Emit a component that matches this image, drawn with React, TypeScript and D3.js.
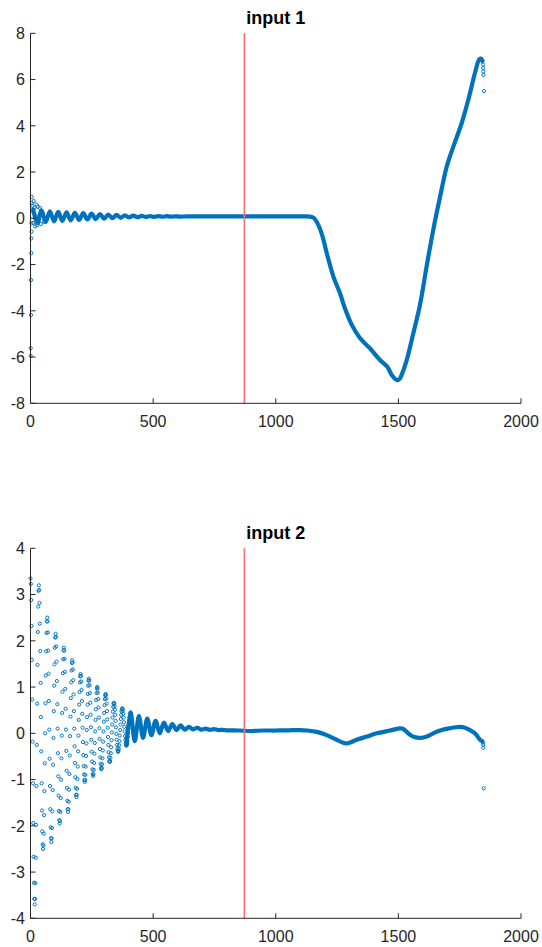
import React from 'react';
import * as d3 from 'd3';

const xTicks = [0, 500, 1000, 1500, 2000];
const input1Ticks = [-8, -6, -4, -2, 0, 2, 4, 6, 8];
const input2Ticks = [-4, -3, -2, -1, 0, 1, 2, 3, 4];
const cutoffIndex = 872;

// input 1 — first samples, scattered around the start
const input1Head: [number, number][] = [
  [1, -5.95], [1, -5.62], [2, -4.18], [2, -2.67], [3, -1.51], [3, -0.87], [4, -0.58],
  [4, -0.22], [5, 0.65], [5, 0.93], [7, 0.55], [9, 0.3], [11, -0.2], [13, 0.75],
  [16, 0.45], [19, -0.35], [21, 0.1], [24, 0.6], [27, -0.3], [30, 0.5], [33, -0.1],
  [38, 0.45], [42, -0.25], [48, 0.2], [55, -0.15],
];

// input 1 — damped ripple (peaks / troughs)
const input1Ripple: [number, number][] = [
  [11, 0.38], [28, -0.2], [45, 0.34], [62, -0.16], [79, 0.3], [96, -0.13], [113, 0.28],
  [130, -0.11], [147, 0.26], [164, -0.09], [181, 0.24], [198, -0.07], [215, 0.22],
  [232, -0.05], [249, 0.205], [266, -0.035], [283, 0.185], [300, -0.015], [317, 0.165],
  [334, 0.005], [351, 0.145], [368, 0.022], [385, 0.13], [402, 0.036], [419, 0.118],
  [436, 0.048], [453, 0.107], [470, 0.057], [487, 0.1], [504, 0.063], [521, 0.094],
  [538, 0.068], [555, 0.09], [572, 0.072], [589, 0.086], [606, 0.075],
];

// input 1 — slow trend
const input1Trend: [number, number][] = [
  [640, 0.08], [700, 0.08], [800, 0.08], [900, 0.08], [1000, 0.08], [1100, 0.08],
  [1140, 0.075], [1155, 0.02], [1167, -0.15], [1187, -0.65], [1208, -1.51],
  [1235, -2.52], [1262, -3.24], [1282, -3.89], [1310, -4.61], [1344, -5.19],
  [1384, -5.62], [1425, -6.13], [1455, -6.42], [1473, -6.78], [1493, -6.99],
  [1505, -6.95], [1513, -6.78], [1534, -6.13], [1561, -4.97], [1588, -3.75],
  [1615, -2.09], [1642, -0.51], [1670, 0.93], [1697, 2.23], [1724, 3.1],
  [1758, 4.11], [1785, 5.12], [1812, 6.27], [1830, 6.88], [1838, 6.9], [1843, 6.8],
];

const input1End: [number, number][] = [
  [1845, 6.65], [1846, 6.5], [1846, 6.35], [1847, 6.2], [1849, 5.5],
];

// input 2 — large oscillation, individual samples (two interleaved sample sets)
const input2ScatterStep = 2.8333;
const input2Scatter = [
  3.35, 2.88, 1.59, -0.18, -1.94, -3.23, -3.7, -3.24, -1.98, -0.25, 1.48, 2.74,
  3.2, 2.82, 1.78, 0.35, -1.08, -2.12, -2.5, -2.17, -1.25, 0, 1.25, 2.17,
  2.5, 2.18, 1.29, 0.08, -1.14, -2.03, -2.35, -2.05, -1.23, -0.1, 1.03, 1.85,
  2.15, 1.88, 1.13, 0.1, -0.93, -1.68, -1.95, -1.7, -1.0, -0.05, 0.9, 1.6,
  1.85, 1.61, 0.96, 0.08, -0.81, -1.46, -1.7, -1.48, -0.88, -0.06, 0.76, 1.36,
  1.58, 1.38, 0.84, 0.1, -0.64, -1.18, -1.38, -1.2, -0.72, -0.05, 0.62, 1.1,
  1.28, 1.12, 0.7, 0.12, -0.47, -0.89, -1.05, -0.9, -0.49, 0.07, 0.62, 1.03,
  1.18, 1.04, 0.66, 0.13, -0.4, -0.78, -0.92, -0.79, -0.44, 0.04, 0.52, 0.87,
  1.0, 0.88, 0.56, 0.11, -0.34, -0.66, -0.78, -0.67, -0.37, 0.04, 0.44, 0.74,
  0.85, 0.75, 0.48, 0.12, -0.25, -0.52, -0.62, -0.53, -0.3, 0.02, 0.34, 0.57,
  0.66, 0.59, 0.4, 0.13, -0.14, -0.33, -0.4, -0.34, -0.17, 0.07, 0.31, 0.48,
  0.54, 0.49, 0.34, 0.14, -0.06, -0.21, -0.26, -0.21, -0.08, 0.1, 0.27, 0.4,
  0.45,
];
// second set, half a step later
const input2ScatterLate = [
  3.23, 2.32, 0.73, -1.08, -2.67, -3.58, -3.58, -2.69, -1.14, 0.64, 2.19, 3.08,
  3.1, 2.37, 1.09, -0.39, -1.67, -2.4, -2.42, -1.77, -0.65, 0.65, 1.77, 2.42,
  2.42, 1.79, 0.7, -0.55, -1.64, -2.27, -2.27, -1.69, -0.68, 0.48, 1.49, 2.07,
  2.08, 1.55, 0.63, -0.43, -1.35, -1.88, -1.89, -1.4, -0.54, 0.44, 1.3, 1.79,
  1.79, 1.33, 0.53, -0.38, -1.18, -1.64, -1.64, -1.22, -0.48, 0.36, 1.1, 1.52,
  1.53, 1.15, 0.48, -0.28, -0.95, -1.33, -1.33, -0.99, -0.39, 0.29, 0.89, 1.23,
  1.24, 0.94, 0.42, -0.19, -0.71, -1.01, -1.01, -0.72, -0.22, 0.35, 0.85, 1.14,
  1.14, 0.87, 0.4, -0.14, -0.61, -0.88, -0.89, -0.64, -0.21, 0.29, 0.72, 0.97,
  0.97, 0.74, 0.34, -0.12, -0.52, -0.75, -0.75, -0.54, -0.18, 0.25, 0.61, 0.82,
  0.83, 0.64, 0.3, -0.08, -0.41, -0.6, -0.6, -0.43, -0.15, 0.19, 0.47, 0.64,
  0.64, 0.51, 0.27, -0.01, -0.25, -0.38, -0.38, -0.26, -0.05, 0.19, 0.4, 0.52,
  0.53, 0.42, 0.24, 0.04, -0.14, -0.25, -0.25, -0.16, 0.0, 0.19, 0.35, 0.44,
];

// input 2 — ripple tail (peaks / troughs)
const input2Ripple: [number, number][] = [
  [391, -0.26], [408, 0.45],
  [425, -0.17], [442, 0.37], [459, -0.1], [476, 0.32], [493, -0.04], [510, 0.27],
  [527, 0.0], [544, 0.23], [561, 0.05], [578, 0.2], [595, 0.07], [612, 0.17],
  [629, 0.08], [646, 0.14], [663, 0.085], [680, 0.12], [697, 0.08], [714, 0.1],
  [731, 0.075], [748, 0.09], [765, 0.07], [782, 0.075],
];

const input2Trend: [number, number][] = [
  [800, 0.065], [850, 0.06], [900, 0.05], [950, 0.06], [1000, 0.06], [1050, 0.065],
  [1099, 0.07], [1130, 0.06], [1167, 0.03], [1208, -0.04], [1249, -0.14],
  [1272, -0.2], [1289, -0.22], [1308, -0.19], [1330, -0.14], [1371, -0.07],
  [1412, 0.0], [1440, 0.03], [1466, 0.06], [1490, 0.09], [1505, 0.105], [1518, 0.1],
  [1532, 0.04], [1547, -0.03], [1565, -0.08], [1588, -0.1], [1610, -0.08], [1629, -0.04],
  [1650, 0.02], [1670, 0.06], [1690, 0.09], [1711, 0.11], [1735, 0.13], [1752, 0.14],
  [1772, 0.12], [1792, 0.07], [1810, 0.01], [1819, -0.04], [1833, -0.14], [1842, -0.17],
];

const input2End: [number, number][] = [
  [1845, -0.2], [1846, -0.25], [1846, -0.31], [1848, -1.19],
];

const W = 542;
const H = 947;
const left = 30.5;
const right = 521;
const plotH = 370;
const blue = '#0072BD';
const axisColor = '#262626';
const font = '"Liberation Sans", Arial, Helvetica, sans-serif';

type Pt = [number, number];

function Panel({ top, title, yDomain, yTicks, curve, dots }: {
  top: number; title: string; yDomain: [number, number]; yTicks: number[]; curve: Pt[]; dots: Pt[];
}) {
  const x = d3.scaleLinear().domain([0, 2000]).range([left, right]);
  const y = d3.scaleLinear().domain(yDomain).range([top + plotH, top]);
  const bottom = top + plotH;
  const line = d3.line<Pt>()
    .x(d => x(d[0]))
    .y(d => y(d[1]))
    .curve(d3.curveCatmullRom.alpha(0.5));

  return (
    <g>
      <path d={line(curve) || ''} fill="none" stroke={blue} strokeWidth={4.2}
        strokeLinejoin="round" strokeLinecap="round" />
      {dots.map(([a, b], i) => (
        <circle key={i} cx={x(a)} cy={y(b)} r={1.6} fill="none" stroke={blue} strokeWidth={0.95} />
      ))}
      <line x1={x(cutoffIndex)} x2={x(cutoffIndex)} y1={top} y2={bottom}
        stroke="#ff6f6f" strokeWidth={1.6} />

      {/* axes */}
      <line x1={left} x2={left} y1={top} y2={bottom} stroke={axisColor} strokeWidth={1} />
      <line x1={left} x2={right} y1={bottom} y2={bottom} stroke={axisColor} strokeWidth={1} />
      {yTicks.map(t => (
        <g key={'y' + t}>
          <line x1={left} x2={left + 5} y1={y(t)} y2={y(t)} stroke={axisColor} strokeWidth={1} />
          <text x={left - 5.5} y={y(t)} dy="0.36em" textAnchor="end" fontSize={16}
            fontFamily={font} fill={axisColor}>{t}</text>
        </g>
      ))}
      {xTicks.map(t => (
        <g key={'x' + t}>
          <line x1={x(t)} x2={x(t)} y1={bottom} y2={bottom - 5} stroke={axisColor} strokeWidth={1} />
          <text x={x(t)} y={bottom + 23.5} textAnchor="middle" fontSize={16}
            fontFamily={font} fill={axisColor}>{t}</text>
        </g>
      ))}
      <text x={(left + right) / 2} y={top - 9.3} textAnchor="middle" fontSize={18}
        fontWeight="bold" fontFamily={font} fill="#000">{title}</text>
    </g>
  );
}

export default function App() {
  const input2Dots: Pt[] = [
    ...input2Scatter.map((v, i): Pt => [i * input2ScatterStep, v]),
    ...input2ScatterLate.map((v, i): Pt => [(i + 0.5) * input2ScatterStep, v]),
  ];
  return (
    <svg width={W} height={H} style={{ position: 'absolute', left: 0, top: 0, background: '#fff' }}>
      <Panel top={33.3} title="input 1" yDomain={[-8, 8]} yTicks={input1Ticks}
        curve={[...input1Ripple, ...input1Trend]} dots={[...input1Head, ...input1End]} />
      <Panel top={548.3} title="input 2" yDomain={[-4, 4]} yTicks={input2Ticks}
        curve={[...input2Ripple, ...input2Trend]} dots={[...input2Dots, ...input2End]} />
    </svg>
  );
}
